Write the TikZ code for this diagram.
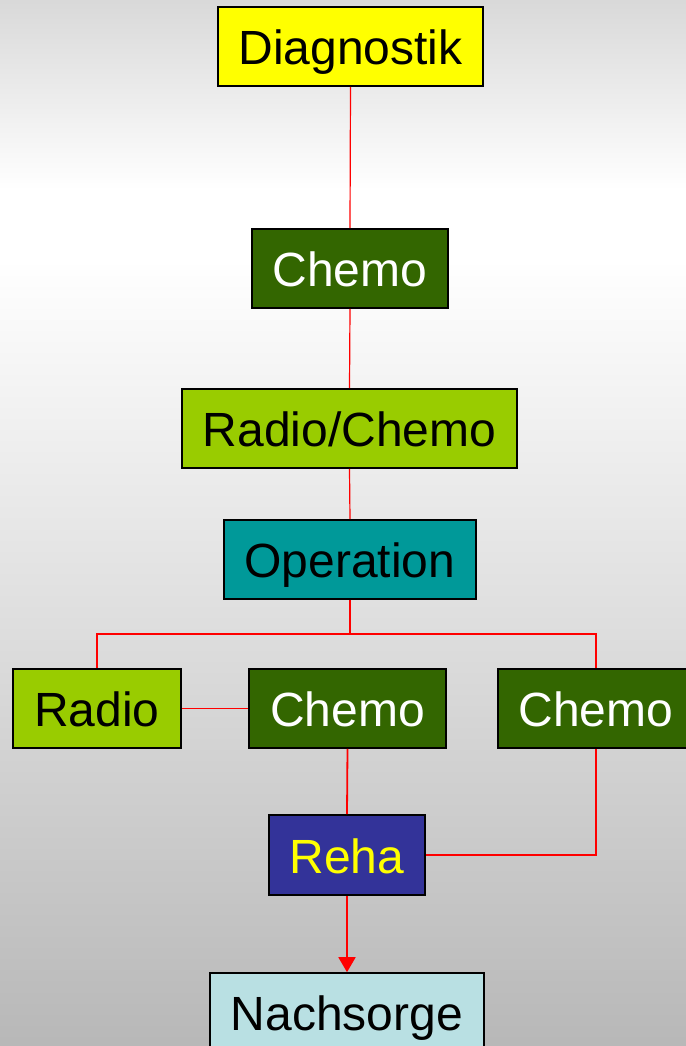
\documentclass[tikz,border=0pt]{standalone}
\usepackage{fontspec}
\setmainfont{Liberation Sans}
\usetikzlibrary{arrows.meta,positioning}
\definecolor{diagyellow}{HTML}{FFFF00}
\definecolor{chemogreen}{HTML}{336600}
\definecolor{radiogreen}{HTML}{99CC00}
\definecolor{opteal}{HTML}{009999}
\definecolor{rehablue}{HTML}{333399}
\definecolor{nachcyan}{HTML}{B9E0E3}
\definecolor{linkred}{HTML}{FF0000}
\tikzset{>=Latex,
  every node/.style={font=\fontsize{24}{28}\selectfont},
  phase/.style={draw=black,line width=.8pt,inner sep=0pt,minimum height=39.5pt,
    text height=18pt,text depth=0pt},
  link/.style={draw=linkred,line width=.9pt},
  thinlink/.style={draw=linkred,line width=.6pt}}

\begin{document}
\begin{tikzpicture}[x=.5pt,y=-.5pt]
\useasboundingbox(0,0)rectangle(686,1046);
\clip(0,0)rectangle(686,1046);
% backdrop
\shade[top color=black!15,bottom color=white](0,0)rectangle(686,190);
\fill[white](0,189)rectangle(686,260);
\shade[top color=white,bottom color=black!28](0,259)rectangle(686,1046);
% therapy steps
\node[phase,fill=diagyellow,minimum width=132.5pt](diag)at(350.5,46.5){Diagnostik};
\node[phase,fill=chemogreen,text=white,minimum width=98pt](chemoA)at(350,268.5){Chemo};
\node[phase,fill=radiogreen,minimum width=167.5pt](radchemo)at(349.5,428.5){Radio/Chemo};
\node[phase,fill=opteal,minimum width=126pt](op)at(350,559.5){Operation};
\node[phase,fill=radiogreen,minimum width=84pt](radio)at(97,708.5){Radio};
\node[phase,fill=chemogreen,text=white,minimum width=98.5pt](chemoB)at(347.5,708.5){Chemo};
\node[phase,fill=chemogreen,text=white,minimum width=98pt](chemoC)at(596,708.5){Chemo};
\node[phase,fill=rehablue,text=diagyellow,minimum width=78pt,minimum height=40pt](reha)at(347,855){Reha};
\node[phase,fill=nachcyan,minimum width=137pt](nach)at(347,1012.5){Nachsorge};
\coordinate(fork)at(350,634);
% connectors
\draw[thinlink](diag.south)--(chemoA.north);
\draw[thinlink](chemoA.south)--(radchemo.north);
\draw[thinlink](radchemo.south)--(op.north);
\draw[link](op.south)--(fork);
\draw[link](radio.north)|-(fork)-|(chemoC.north);
\draw[link](radio.east)--(chemoB.west);
\draw[link](chemoB.south)--(reha.north);
\draw[link](chemoC.south)|-(reha.east);
\draw[link,-{Triangle[length=7.5pt,width=8.5pt]}](reha.south)--(nach.north);
\end{tikzpicture}
\end{document}
